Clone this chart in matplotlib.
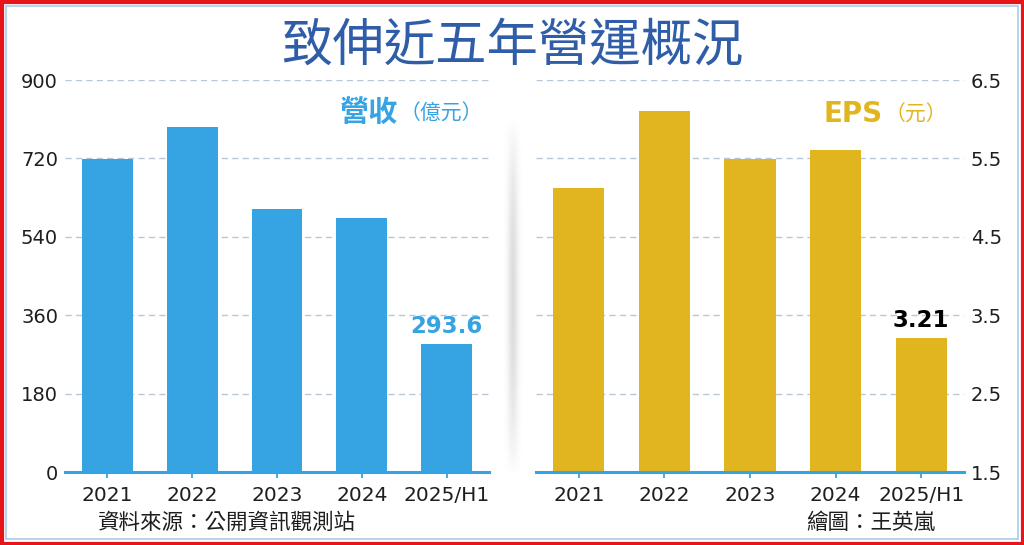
import numpy as np
import matplotlib.pyplot as plt
from matplotlib.patches import Rectangle

# Fonts: CJK family first, DejaVu as fallback for anything it lacks
CJK = ["Noto Sans CJK TC", "DejaVu Sans"]
plt.rcParams.update({
    "font.family": ["DejaVu Sans", "Noto Sans CJK TC"],
    "axes.unicode_minus": False,
})

BLUE = "#36A3E3"
GOLD = "#E0B520"
TITLE = "#2F5DA8"
GRID = "#B8C8D8"
DARK = "#1E1E1E"

# Data
years = ["2021", "2022", "2023", "2024", "2025/H1"]
revenue = [718, 792, 604, 584, 293.6]      # 億元
eps = [5.12, 6.10, 5.49, 5.61, 3.21]       # 元

rev_ticks = [0, 180, 360, 540, 720, 900]
eps_ticks = [1.5, 2.5, 3.5, 4.5, 5.5, 6.5]

W, H = 1024, 545
fig = plt.figure(figsize=(W / 100, H / 100), dpi=100)
fig.patch.set_facecolor("white")


def px(x0, y_top, w, h):
    # pixel box (top-left origin) -> figure fraction
    return [x0 / W, 1 - (y_top + h) / H, w / W, h / H]


def style_axes(ax, ticks, side):
    x = np.arange(len(years))
    ax.set_xlim(-0.5, len(years) - 0.5)
    for s in ("top", "left", "right"):
        ax.spines[s].set_visible(False)
    ax.spines["bottom"].set_color(BLUE)
    ax.spines["bottom"].set_linewidth(2.2)
    ax.set_xticks(x)
    ax.set_xticklabels(years, fontsize=14.5, color=DARK)
    ax.tick_params(axis="x", direction="out", length=4, width=1.3,
                   color=BLUE, pad=6)
    ax.set_yticks(ticks)
    ax.tick_params(axis="y", length=0, labelsize=14, labelcolor=DARK,
                   pad=5, left=(side == "left"), right=(side == "right"),
                   labelleft=(side == "left"), labelright=(side == "right"))
    for t in ticks[1:]:
        ax.axhline(t, color=GRID, linewidth=1, dashes=(4.5, 3), zorder=0)
    ax.set_facecolor("none")


# ── Left panel: revenue ──────────────────────────────────────────────────────
ax1 = fig.add_axes(px(65, 80, 424, 392))
ax1.bar(np.arange(len(years)), revenue, width=0.6, color=BLUE, zorder=2)
ax1.set_ylim(0, 900)
style_axes(ax1, rev_ticks, "left")
ax1.set_yticklabels([f"{t}" for t in rev_ticks])
ax1.text(4, revenue[-1] + 14, f"{revenue[-1]:.1f}", ha="center", va="bottom",
         fontsize=16.5, fontweight="bold", color=BLUE)

# ── Right panel: EPS ─────────────────────────────────────────────────────────
ax2 = fig.add_axes(px(536, 80, 428, 392))
ax2.bar(np.arange(len(years)), eps, width=0.6, color=GOLD, zorder=2)
ax2.set_ylim(1.5, 6.5)
style_axes(ax2, eps_ticks, "right")
ax2.set_yticklabels([f"{t:.1f}" for t in eps_ticks])
ax2.text(4, eps[-1] + 0.07, f"{eps[-1]:.2f}", ha="center", va="bottom",
         fontsize=16.5, fontweight="bold", color="black")

# ── Series labels ────────────────────────────────────────────────────────────
fig.text(340 / W, 1 - 112 / H, "營收", family=CJK, fontsize=21,
         fontweight="bold", color=BLUE, va="center")
fig.text(400 / W, 1 - 114 / H, "（億元）", family=CJK, fontsize=15,
         color=BLUE, va="center")
fig.text(823 / W, 1 - 114 / H, "EPS", fontsize=20, fontweight="bold",
         color=GOLD, va="center")
fig.text(885 / W, 1 - 115 / H, "（元）", family=CJK, fontsize=15,
         color=GOLD, va="center")

# ── Title and footnotes ──────────────────────────────────────────────────────
fig.text(0.5, 1 - 46 / H, "致伸近五年營運概況", family=CJK, fontsize=37,
         fontweight="medium", color=TITLE, ha="center", va="center")
fig.text(98 / W, 1 - 523 / H, "資料來源：公開資訊觀測站", family=CJK,
         fontsize=15.5, color=DARK, va="center")
fig.text(935 / W, 1 - 523 / H, "繪圖：王英嵐", family=CJK,
         fontsize=15.5, color=DARK, va="center", ha="right")

# ── Soft gray divider between the panels ─────────────────────────────────────
sh = fig.add_axes(px(500, 120, 26, 355))
sh.axis("off")
gx = np.exp(-((np.linspace(-1, 1, 60)) / 0.4) ** 2)
gy = np.sin(np.linspace(0, np.pi, 200)) ** 0.8
rgba = np.zeros((200, 60, 4))
rgba[..., :3] = 0.70
rgba[..., 3] = 0.45 * np.outer(gy, gx)
sh.imshow(rgba, aspect="auto", interpolation="bilinear")

# ── Frame: red outer border + thin light blue inner border ───────────────────
fig.patches.append(Rectangle((1.5 / W, 1.5 / H), 1 - 3 / W, 1 - 3 / H,
                             transform=fig.transFigure, fill=False,
                             edgecolor="#E8141C", linewidth=3))
fig.patches.append(Rectangle((6 / W, 6 / H), 1 - 12 / W, 1 - 12 / H,
                             transform=fig.transFigure, fill=False,
                             edgecolor="#A9CBEA", linewidth=1.2))

fig.savefig("out.png", dpi=100)
